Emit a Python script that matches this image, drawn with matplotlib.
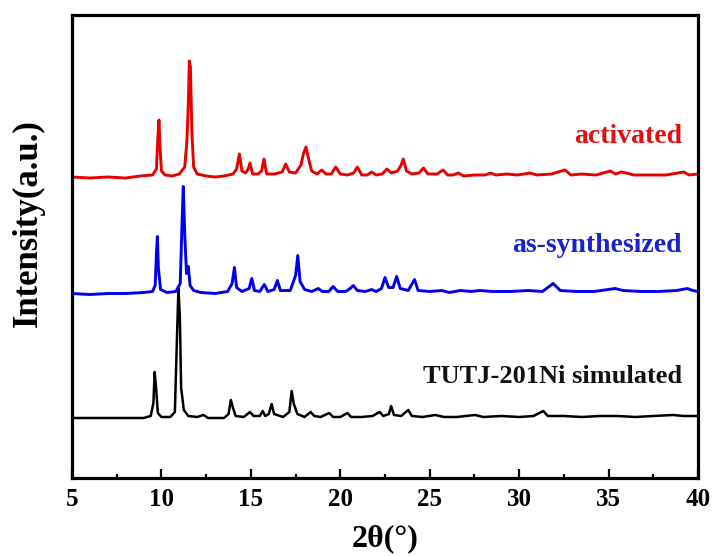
import matplotlib
matplotlib.use("Agg")
import matplotlib.pyplot as plt
from matplotlib.ticker import MultipleLocator

# XRD patterns (2theta in degrees, intensity in a.u. above each baseline)
sim_x = [5.0, 6.5, 8.0, 9.0, 9.4, 9.55, 9.62, 9.7, 9.8, 10.0, 10.5, 10.75, 10.85, 10.95,
         11.03, 11.1, 11.15, 11.25, 11.5, 12.0, 12.35, 12.6, 13.5, 13.75, 13.88, 14.0,
         14.15, 14.6, 14.95, 15.15, 15.5, 15.66, 15.8, 16.0, 16.16, 16.3, 16.8, 17.15,
         17.28, 17.4, 17.6, 18.0, 18.34, 18.55, 18.9, 19.38, 19.6, 20.0, 20.4, 20.6,
         21.2, 21.8, 22.2, 22.4, 22.72, 22.84, 23.0, 23.4, 23.8, 24.0, 24.6, 25.3, 25.8,
         26.5, 27.53, 28.0, 29.0, 30.0, 30.8, 31.35, 31.6, 32.5, 33.5, 34.5, 35.5, 36.5,
         37.5, 38.6, 39.2, 40.0]
sim_y = [0, 0, 0, 0, 2, 15, 46, 30, 5, 1, 1, 6, 70, 130,
         100, 30, 23, 8, 2, 1, 3, 0, 0, 4, 18, 10,
         2, 1, 6, 2, 2, 7, 2, 4, 14, 4, 1, 6,
         27, 14, 4, 1, 6, 2, 1, 5, 1, 1, 5, 1,
         1, 2, 6, 2, 4, 12, 3, 2, 8, 2, 1, 3, 1,
         1, 3, 1, 2, 1, 2, 7, 2, 2, 1, 2, 2, 1,
         2, 3, 2, 2]

syn_x = [5.0, 6.0, 7.0, 8.0, 9.0, 9.5, 9.65, 9.72, 9.77, 9.83, 9.95, 10.3, 10.8, 11.05,
         11.15, 11.22, 11.3, 11.4, 11.5, 11.6, 11.8, 12.2, 13.0, 13.7, 13.95, 14.08,
         14.2, 14.5, 14.9, 15.05, 15.2, 15.5, 15.75, 15.95, 16.3, 16.48, 16.65, 17.2,
         17.5, 17.62, 17.75, 18.0, 18.4, 18.77, 19.0, 19.35, 19.6, 19.85, 20.3, 20.55,
         20.73, 20.95, 21.4, 21.75, 22.0, 22.3, 22.5, 22.7, 22.95, 23.15, 23.35, 23.8,
         24.15, 24.35, 25.0, 25.67, 26.1, 26.7, 27.3, 27.8, 28.5, 29.5, 30.5, 31.3,
         31.9, 32.3, 33.2, 34.2, 35.36, 35.8, 36.8, 37.8, 38.8, 39.4, 39.7, 40.0]
syn_y = [0, -1, 0, 0, 1, 2, 8, 40, 57, 25, 4, 1, 2, 10,
         70, 107, 60, 20, 27, 8, 3, 1, 0, 2, 10, 26,
         6, 2, 5, 15, 3, 2, 9, 2, 4, 13, 3, 3,
         18, 38, 12, 4, 2, 5, 2, 2, 7, 2, 2, 5,
         8, 3, 2, 4, 2, 5, 16, 6, 6, 17, 5, 3,
         14, 3, 2, 3, 1, 3, 2, 3, 2, 2, 3, 2,
         10, 3, 2, 2, 5, 3, 2, 2, 3, 5, 3, 2]

act_x = [5.0, 6.0, 7.0, 8.0, 8.8, 9.5, 9.72, 9.8, 9.86, 9.92, 10.0, 10.2, 10.6, 11.0,
         11.3, 11.42, 11.5, 11.56, 11.62, 11.7, 11.8, 12.0, 12.5, 13.0, 13.5, 14.0,
         14.2, 14.36, 14.5, 14.7, 14.85, 14.95, 15.1, 15.4, 15.6, 15.73, 15.88, 16.3,
         16.75, 16.95, 17.15, 17.5, 17.8, 17.95, 18.08, 18.2, 18.4, 18.7, 18.96, 19.2,
         19.5, 19.74, 20.0, 20.4, 20.75, 20.95, 21.2, 21.5, 21.75, 22.0, 22.35, 22.6,
         22.85, 23.2, 23.4, 23.52, 23.7, 24.0, 24.4, 24.65, 24.9, 25.4, 25.75, 26.0,
         26.3, 26.6, 26.9, 27.5, 28.1, 28.4, 28.7, 29.3, 29.9, 30.6, 31.0, 31.8, 32.56,
         32.9, 33.5, 34.3, 35.1, 35.4, 35.7, 36.0, 36.4, 37.2, 38.2, 39.2, 39.5, 40.0]
act_y = [0, -1, 0, -1, 1, 2, 8, 40, 57, 30, 6, 2, 1, 3,
         10, 35, 72, 116, 110, 45, 10, 3, 1, 0, 1, 3,
         8, 23, 6, 4, 8, 14, 3, 3, 6, 18, 3, 3,
         5, 13, 5, 4, 12, 24, 30, 20, 6, 3, 7, 3,
         3, 10, 3, 2, 4, 10, 2, 2, 5, 2, 3, 8,
         4, 6, 12, 18, 6, 3, 4, 9, 3, 3, 7, 2,
         2, 4, 1, 2, 2, 4, 2, 3, 2, 4, 2, 3, 7,
         2, 3, 2, 6, 3, 5, 4, 2, 2, 2, 5, 2, 3]

labels = ["TUTJ-201Ni simulated", "as-synthesized", "activated"]
colors = ["black", "#0000ee", "#e80000"]
text_colors = ["#111111", "#1a22cc", "#dd1111"]

# vertical offsets of the stacked patterns
offsets = [60, 184.5, 301]

plt.rcParams["font.family"] = "Liberation Serif"
plt.rcParams["font.weight"] = "bold"

fig = plt.figure(figsize=(7.16, 5.56), dpi=100)
ax = fig.add_axes([0.1006, 0.1403, 0.8743, 0.8327])

series = [(sim_x, sim_y), (syn_x, syn_y), (act_x, act_y)]
widths = [1.8, 2.1, 2.1]
for (xs, ys), off, c, lw in zip(series, offsets, colors, widths):
    ax.plot(xs, [v + off for v in ys], color=c, lw=lw)

# text labels, right aligned near the end of each trace
label_pos = [(39.1, 95, 19), (39.1, 226, 20), (39.1, 335, 20)]
for (lx, ly, fs), txt, tc in zip(label_pos, labels, text_colors):
    ax.text(lx, ly, txt, color=tc, fontsize=fs, fontweight="bold",
            ha="right", va="baseline")

ax.set_xlim(5, 40)
ax.set_ylim(0, 463)
ax.xaxis.set_major_locator(MultipleLocator(5))
ax.xaxis.set_minor_locator(MultipleLocator(2.5))
ax.tick_params(axis="x", which="major", direction="in", length=6.5, width=1.6,
               labelsize=18, pad=7)
ax.tick_params(axis="x", which="minor", direction="in", length=3, width=1.6)
ax.set_yticks([])
for sp in ax.spines.values():
    sp.set_linewidth(2.3)

ax.set_xlabel("2θ(°)", fontsize=23, fontweight="bold", labelpad=10)
ax.set_ylabel("Intensity(a.u.)", fontsize=25, fontweight="bold")
ax.yaxis.set_label_coords(-0.043, 0.55)

fig.savefig("out.png", dpi=100)
